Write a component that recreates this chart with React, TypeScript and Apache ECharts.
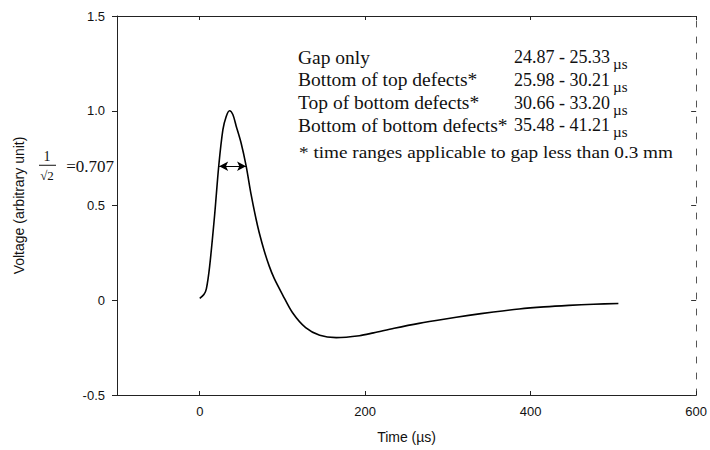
import React, { useEffect, useRef } from "react";
import * as echarts from "echarts";

// Time (µs) and normalised voltage
const timeUs = [0, 5, 8, 12, 18, 23, 28, 32, 36, 40, 44, 50, 56, 62, 68, 72, 78, 84, 90, 100, 112, 128, 145, 165, 193, 210, 235, 265, 295, 325, 355, 386, 416, 446, 476, 506];
const voltage = [0.01, 0.03, 0.06, 0.18, 0.45, 0.71, 0.9, 0.97, 1.0, 0.98, 0.92, 0.83, 0.71, 0.56, 0.43, 0.355, 0.26, 0.18, 0.115, 0.03, -0.065, -0.145, -0.185, -0.197, -0.187, -0.172, -0.148, -0.122, -0.1, -0.08, -0.062, -0.046, -0.035, -0.027, -0.021, -0.017];

const xTickValues = [0, 200, 400, 600];

// half-maximum width arrow
const halfMax = 0.707;
const fwhmStart = 23.5;
const fwhmEnd = 56;

const rangeNames = ["Gap only", "Bottom of top defects*", "Top of bottom defects*", "Bottom of bottom defects*"];
const rangeValues = ["24.87 - 25.33", "25.98 - 30.21", "30.66 - 33.20", "35.48 - 41.21"];
const rangeUnit = "µs";
const footnote = "* time ranges applicable to gap less than 0.3 mm";

const SANS = '"Liberation Sans", Arial, sans-serif';
const SERIF = '"Liberation Serif", "Times New Roman", serif';
const INK = "#111";

export default function App() {
  const ref = useRef<HTMLDivElement>(null);

  useEffect(() => {
    if (!ref.current) return;
    const chart = echarts.init(ref.current, null, { renderer: "svg" });

    const textRows: any[] = [];
    rangeNames.forEach((name, i) => {
      const cy = 57 + i * 22.8;
      textRows.push({
        type: "text",
        x: 298,
        y: cy,
        style: { text: name, fontFamily: SERIF, fontSize: 19.5, fill: INK, align: "left", verticalAlign: "middle" },
      });
      textRows.push({
        type: "text",
        x: 514,
        y: cy,
        style: { text: rangeValues[i], fontFamily: SERIF, fontSize: 18, fill: INK, align: "left", verticalAlign: "middle" },
      });
      textRows.push({
        type: "text",
        x: 613,
        y: cy + 7,
        style: { text: rangeUnit, fontFamily: SERIF, fontSize: 15, fill: INK, align: "left", verticalAlign: "middle" },
      });
    });
    textRows.push({
      type: "text",
      x: 299,
      y: 153,
      scaleX: 1.2,
      style: { text: footnote, x: 0, y: 0, fontFamily: SERIF, fontSize: 16, fill: INK, align: "left", verticalAlign: "middle" },
    });

    const option: any = {
      animation: false,
      backgroundColor: "#fff",
      grid: { left: 117, right: 12, top: 16, bottom: 55, containLabel: false },
      xAxis: [
        {
          type: "value",
          min: -100,
          max: 600,
          interval: 100,
          name: "Time (µs)",
          nameLocation: "middle",
          nameGap: 35,
          nameTextStyle: { fontFamily: SANS, fontSize: 14, color: INK },
          axisLine: { show: true, onZero: false, lineStyle: { color: "#222", width: 1 } },
          axisTick: { show: true, inside: true, length: 4, customValues: xTickValues, lineStyle: { color: "#222" } },
          axisLabel: { customValues: xTickValues, margin: 10, fontFamily: SANS, fontSize: 13, color: INK },
          splitLine: { show: false },
        },
        {
          type: "value",
          position: "top",
          min: -100,
          max: 600,
          interval: 100,
          axisLine: { show: true, onZero: false, lineStyle: { color: "#222", width: 1 } },
          axisTick: { show: true, inside: true, length: 4, customValues: xTickValues, lineStyle: { color: "#222" } },
          axisLabel: { show: false },
          splitLine: { show: false },
        },
      ],
      yAxis: [
        {
          type: "value",
          min: -0.5,
          max: 1.5,
          interval: 0.5,
          name: "Voltage (arbitrary unit)",
          nameLocation: "middle",
          nameGap: 91,
          nameTextStyle: { fontFamily: SANS, fontSize: 14, color: INK },
          axisLine: { show: true, onZero: false, lineStyle: { color: "#222", width: 1 } },
          axisTick: { show: true, inside: false, length: 5, lineStyle: { color: "#222" } },
          axisLabel: {
            margin: 12,
            fontFamily: SANS,
            fontSize: 13,
            color: INK,
            formatter: (v: number) => (v === 0 ? "0" : v.toFixed(1)),
          },
          splitLine: { show: false },
        },
        {
          type: "value",
          position: "right",
          min: -0.5,
          max: 1.5,
          interval: 0.5,
          axisLine: { show: true, onZero: false, lineStyle: { color: "#555", width: 1, type: [6, 10] } },
          axisTick: { show: true, inside: true, length: 5, lineStyle: { color: "#333" } },
          axisLabel: { show: false },
          splitLine: { show: false },
        },
      ],
      series: [
        {
          type: "line",
          data: timeUs.map((t, i) => [t, voltage[i]]),
          showSymbol: false,
          smooth: 0.3,
          lineStyle: { color: "#000", width: 1.6 },
          markLine: {
            silent: true,
            symbol: ["arrow", "arrow"],
            symbolSize: [7, 9],
            label: { show: false },
            lineStyle: { color: "#000", width: 1, type: "solid" },
            data: [[{ coord: [fwhmStart, halfMax] }, { coord: [fwhmEnd, halfMax] }]],
          },
        },
      ],
      graphic: textRows,
    };

    chart.setOption(option);

    // 1/√2 = 0.707 annotation anchored at the half-max value on the y axis
    const yPix = chart.convertToPixel({ yAxisIndex: 0 }, halfMax) as number;
    chart.setOption({
      graphic: [
        ...textRows,
        {
          type: "group",
          children: [
            { type: "text", x: 47, y: yPix - 10, style: { text: "1", fontFamily: SERIF, fontSize: 14, fill: INK, align: "center", verticalAlign: "middle" } },
            { type: "line", shape: { x1: 39, y1: yPix - 1, x2: 56, y2: yPix - 1 }, style: { stroke: INK, lineWidth: 1 } },
            { type: "text", x: 47, y: yPix + 9, style: { text: "√2", fontFamily: SERIF, fontSize: 13, fill: INK, align: "center", verticalAlign: "middle" } },
            { type: "text", x: 114, y: yPix, style: { text: "=0.707", fontFamily: SERIF, fontSize: 17, fill: INK, align: "right", verticalAlign: "middle" } },
          ],
        },
      ],
    });

    return () => chart.dispose();
  }, []);

  return (
    <div
      ref={ref}
      style={{ position: "fixed", left: 0, top: 0, width: 710, height: 450, background: "#fff" }}
    />
  );
}
